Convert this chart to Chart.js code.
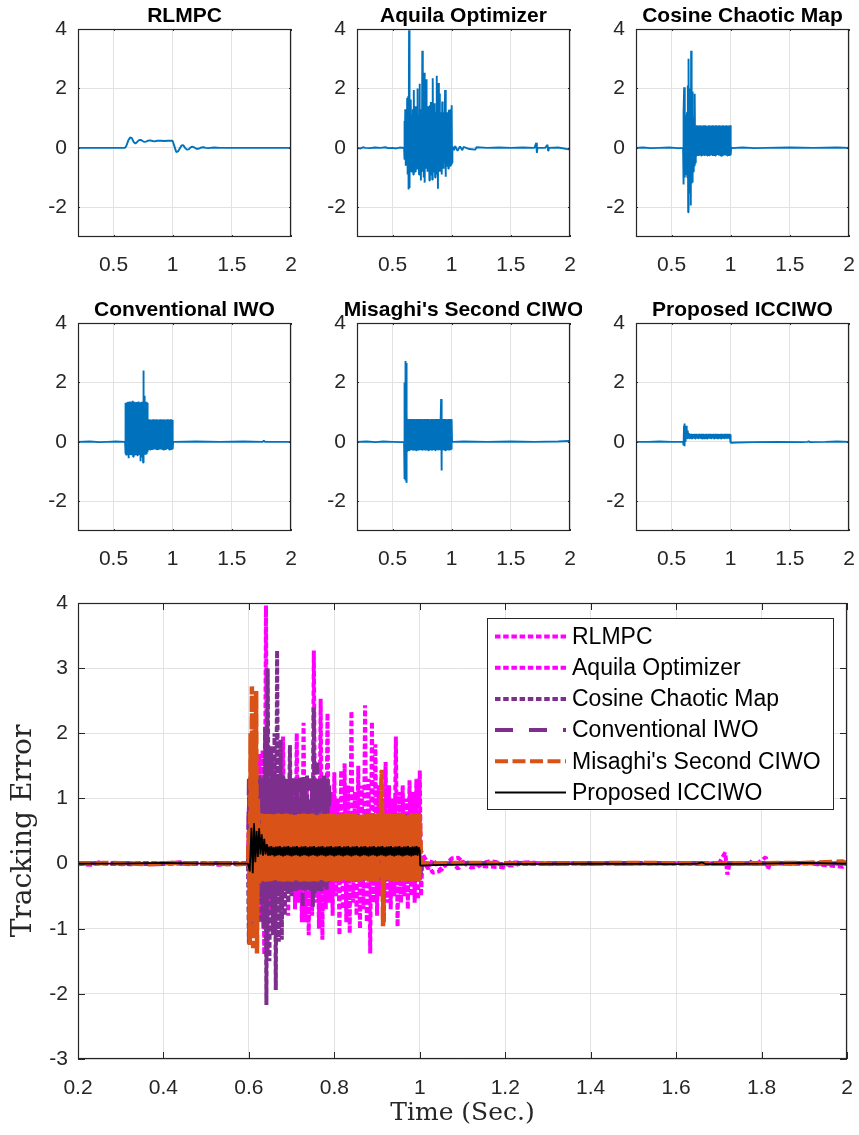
<!DOCTYPE html>
<html><head><meta charset="utf-8">
<script src="https://cdn.jsdelivr.net/npm/chart.js@4.4.0/dist/chart.umd.min.js"></script>
<style>
html,body{margin:0;padding:0;background:#fff;}
body{width:859px;height:1135px;position:relative;overflow:hidden;}
canvas{position:absolute;}
</style></head><body>
<canvas id="s0"></canvas><canvas id="s1"></canvas><canvas id="s2"></canvas>
<canvas id="s3"></canvas><canvas id="s4"></canvas><canvas id="s5"></canvas>
<canvas id="big"></canvas>
<script>
// ---------------- DATA ----------------
const methodNames = ['RLMPC','Aquila Optimizer','Cosine Chaotic Map','Conventional IWO',"Misaghi's Second CIWO",'Proposed ICCIWO'];
const smallXTicks = [0.5,1,1.5,2];
const smallXLabels = ['0.5','1','1.5','2'];
const smallYTicks = [-2,0,2,4];
const smallYLabels = ['-2','0','2','4'];
const bigXTicks = [0.2,0.4,0.6,0.8,1,1.2,1.4,1.6,1.8,2];
const bigXLabels = ['0.2','0.4','0.6','0.8','1','1.2','1.4','1.6','1.8','2'];
const bigYTicks = [-3,-2,-1,0,1,2,3,4];
const bigYLabels = ['-3','-2','-1','0','1','2','3','4'];
const xLabelText = 'Time (Sec.)';
const yLabelText = 'Tracking Error';

const rlmpc = [[.2,0],[.598,0],[.61,.08],[.625,.25],[.64,.35],[.655,.33],[.67,.2],[.685,.15],[.70,.2],[.715,.26],[.73,.27],[.745,.23],[.76,.2],[.775,.21],[.79,.24],[.81,.25],[.83,.23],[.85,.22],[.87,.24],[.9,.24],[.93,.23],[.96,.24],[.99,.24],[1.0,.23],[1.015,.05],[1.03,-.14],[1.045,-.12],[1.06,-.02],[1.075,.08],[1.09,.09],[1.105,0],[1.12,-.06],[1.135,-.05],[1.15,.01],[1.165,.04],[1.18,.02],[1.2,-.03],[1.22,-.03],[1.24,.01],[1.26,.02],[1.28,0],[1.3,-.01],[1.35,.01],[1.4,0],[2.0,0]];

const aquila = [[.2,0],[.23,-.02],[.25,.02],[.27,0],[.31,-.01],[.35,.01],[.4,0],[.44,.02],[.46,-.01],[.5,0],[.53,-.02],[.56,.01],[.598,0],
[.600,.9],[.604,-.4],[.608,1.3],[.612,-.6],[.616,1.1],[.620,-.5],[.624,1.68],[.628,-.9],[.632,1.74],[.636,-1.4],[.640,3.96],[.644,-1.35],[.648,1.2],[.652,-.7],[.656,1.63],[.660,-.8],[.664,1.1],[.668,-.5],[.672,1.3],[.676,-.9],[.680,1.95],[.684,-.6],[.688,1.0],[.692,-.8],[.696,1.4],[.700,-.5],[.704,1.2],[.708,-.7],[.712,2.0],[.716,-.6],[.720,1.1],[.724,-.9],[.728,2.16],[.732,-.9],[.736,1.3],[.740,-1.1],[.744,1.0],[.748,-.8],[.752,3.27],[.756,-.6],[.760,1.2],[.764,-1.0],[.768,2.53],[.772,-1.17],[.776,1.3],[.780,-.7],[.784,2.31],[.788,-.6],[.792,1.1],[.796,-.8],[.800,1.4],[.804,-.5],[.808,1.0],[.812,-1.1],[.816,1.43],[.820,-.7],[.824,1.54],[.828,-.9],[.832,1.2],[.836,-1.07],[.840,2.34],[.844,-.6],[.848,1.1],[.852,-.8],[.856,1.5],[.860,-1.0],[.864,1.2],[.868,-.7],[.872,2.43],[.876,-.9],[.880,1.3],[.884,-1.38],[.888,2.18],[.892,-.6],[.896,1.83],[.900,-.8],[.904,1.2],[.908,-.5],[.912,1.0],[.916,-.9],[.920,1.56],[.924,-.6],[.928,1.2],[.932,-.7],[.936,1.0],[.940,-.5],[.944,1.95],[.948,-.97],[.952,1.1],[.956,-.6],[.960,1.2],[.964,-.5],[.968,1.0],[.972,-.7],[.976,1.28],[.980,-.5],[.984,1.1],[.988,-.6],[.992,1.3],[.996,-.55],[1.0,1.43],[1.003,-.5],[1.006,.05],
[1.02,-.08],[1.03,.06],[1.05,-.1],[1.07,.05],[1.09,-.08],[1.1,.03],[1.15,-.04],[1.2,-.06],[1.21,.02],[1.3,0],[1.4,.01],[1.5,0],[1.6,.01],[1.7,0],[1.715,.17],[1.72,-.17],[1.725,0],[1.79,0],[1.81,.1],[1.815,-.09],[1.82,0],[1.9,.01],[1.99,-.05],[2.0,0]];

const cosine = [[.2,0],[.26,.01],[.32,-.01],[.4,0],[.48,.01],[.55,-.01],[.598,0],
[.600,-1.23],[.604,1.2],[.607,2.04],[.610,-1.0],[.614,1.0],[.618,-.8],[.622,1.1],[.626,-.9],[.630,1.2],[.634,-1.0],[.638,2.1],[.641,-2.17],[.644,3.0],[.648,-1.5],[.652,1.8],[.656,-1.1],[.660,2.0],[.663,-1.94],[.666,3.27],[.670,-1.2],[.674,1.9],[.677,-1.17],[.680,1.3],[.684,-.8],[.688,1.0],[.692,-.6],[.696,1.82],[.700,-.5],
[.705,.74],[.71,-.26],[.715,.76],[.72,-.24],[.725,.75],[.73,-.27],[.735,.73],[.74,-.25],[.745,.76],[.75,-.26],[.755,.74],[.76,-.24],[.765,.75],[.77,-.25],[.775,.76],[.78,-.27],[.785,.74],[.79,-.25],[.795,.75],[.8,-.26],[.805,.73],[.81,-.24],[.815,.76],[.82,-.25],[.825,.75],[.83,-.26],[.835,.74],[.84,-.25],[.845,.76],[.85,-.27],[.855,.75],[.86,-.24],[.865,.74],[.87,-.26],[.875,.76],[.88,-.25],[.885,.75],[.89,-.24],[.895,.73],[.9,-.26],[.905,.76],[.91,-.25],[.915,.74],[.92,-.27],[.925,.75],[.93,-.25],[.935,.76],[.94,-.24],[.945,.74],[.95,-.26],[.955,.75],[.96,-.25],[.965,.76],[.97,-.26],[.975,.74],[.98,-.24],[.985,.75],[.99,-.27],[.995,.76],[1.0,-.25],[1.004,.02],[1.01,-.01],
[1.1,.01],[1.2,-.01],[1.3,0],[1.5,.01],[1.7,0],[1.9,.01],[2.0,0]];

const iwo = [[.2,0],[.3,.01],[.38,-.01],[.45,0],[.52,.01],[.598,0],
[.600,1.3],[.602,-.4],[.604,1.32],[.606,-.42],[.608,1.3],[.610,-.45],[.612,1.28],[.614,-.4],[.616,1.33],[.618,-.43],[.620,1.3],[.622,-.4],[.624,1.35],[.626,-.45],[.628,1.3],[.630,-.55],[.632,1.31],[.634,-.42],[.636,1.3],[.638,-.4],[.640,1.36],[.642,-.44],[.644,1.3],[.646,-.4],[.648,1.32],[.650,-.45],[.652,1.3],[.654,-.42],[.656,1.33],[.658,-.4],[.660,1.3],[.662,-.43],[.664,1.38],[.666,-.5],[.668,1.3],[.670,-.42],[.672,1.31],[.674,-.4],[.676,1.3],[.678,-.45],[.680,1.35],[.682,-.4],[.684,1.3],[.686,-.42],[.688,1.32],[.690,-.45],[.692,1.3],[.694,-.4],[.696,1.34],[.698,-.43],[.700,1.3],[.702,-.4],[.704,1.31],[.706,-.48],[.708,1.3],[.710,-.42],[.712,1.36],[.714,-.4],[.716,1.3],[.718,-.44],[.720,1.32],[.722,-.4],[.724,1.3],[.726,-.65],[.728,1.33],[.730,-.42],[.732,1.3],[.734,-.4],[.736,1.35],[.738,-.45],[.740,1.3],[.742,-.5],[.744,1.31],[.746,-.42],[.748,1.3],[.750,-.7],[.752,2.4],[.754,-.45],[.756,1.3],[.758,-.4],[.760,1.55],[.762,-.42],[.764,1.3],[.766,-.4],[.768,1.32],[.770,-.43],[.772,1.3],[.774,-.4],[.776,1.35],[.778,-.42],[.780,1.3],[.782,-.4],[.784,1.31],[.786,-.35],[.788,1.3],[.790,-.3],
[.795,.75],[.8,-.25],[.805,.76],[.81,-.26],[.815,.74],[.82,-.24],[.825,.75],[.83,-.27],[.835,.76],[.84,-.25],[.845,.74],[.85,-.26],[.855,.75],[.86,-.24],[.865,.76],[.87,-.25],[.875,.74],[.88,-.27],[.885,.75],[.89,-.25],[.895,.76],[.9,-.26],[.905,.74],[.91,-.24],[.915,.75],[.92,-.26],[.925,.76],[.93,-.25],[.935,.74],[.94,-.27],[.945,.75],[.95,-.25],[.955,.76],[.96,-.24],[.965,.74],[.97,-.26],[.975,.75],[.98,-.25],[.985,.76],[.99,-.27],[.995,.74],[1.0,-.25],[1.004,.01],[1.01,0],
[1.2,.01],[1.4,0],[1.6,.01],[1.76,0],[1.77,.04],[1.78,0],[2.0,0]];

const misaghi = [[.2,0],[.28,.01],[.36,-.01],[.42,.01],[.5,0],[.57,-.01],[.598,0],
[.600,.5],[.602,-1.25],[.604,2.0],[.606,-.9],[.607,2.72],[.610,-1.3],[.613,2.2],[.615,-1.1],[.617,2.65],[.619,-1.38],[.621,1.0],[.624,-.3],
[.628,.77],[.6305,-.27],[.633,.75],[.6355,-.26],[.638,.76],[.6405,-.28],[.643,.74],[.6455,-.25],[.648,.77],[.6505,-.27],[.653,.75],[.6555,-.26],[.658,.76],[.6605,-.28],[.663,.74],[.6655,-.25],[.668,.77],[.6705,-.27],[.673,.75],[.6755,-.26],[.678,.76],[.6805,-.28],[.683,.74],[.6855,-.25],[.688,.77],[.6905,-.27],[.693,.75],[.6955,-.26],[.698,.76],[.7005,-.28],[.703,.74],[.7055,-.25],[.708,.77],[.7105,-.27],[.713,.75],[.7155,-.26],[.718,.76],[.7205,-.28],[.723,.74],[.7255,-.25],[.728,.77],[.7305,-.27],[.733,.75],[.7355,-.26],[.738,.76],[.7405,-.28],[.743,.74],[.7455,-.25],[.748,.77],[.7505,-.27],[.753,.75],[.7555,-.26],[.758,.76],[.7605,-.28],[.763,.74],[.7655,-.25],[.768,.77],[.7705,-.27],[.773,.75],[.7755,-.26],[.778,.76],[.7805,-.28],[.783,.74],[.7855,-.25],[.788,.77],[.7905,-.27],[.793,.75],[.7955,-.26],[.798,.76],[.8005,-.28],[.803,.74],[.8055,-.25],[.808,.77],[.8105,-.27],[.813,.75],[.8155,-.26],[.818,.76],[.8205,-.28],[.823,.74],[.8255,-.25],[.828,.77],[.8305,-.27],[.833,.75],[.8355,-.26],[.838,.76],[.8405,-.28],[.843,.74],[.8455,-.25],[.848,.77],[.8505,-.27],[.853,.75],[.8555,-.26],[.858,.76],[.8605,-.28],[.863,.74],[.8655,-.25],[.868,.77],[.8705,-.27],[.873,.75],[.8755,-.26],[.878,.76],[.8805,-.28],[.883,.74],[.8855,-.25],[.888,.77],[.8905,-.27],[.893,.75],[.8955,-.26],[.898,.76],[.9005,-.28],[.903,.74],[.9055,-.25],
[.908,.7],[.911,1.44],[.914,-.96],[.9165,.75],[.919,-.26],[.9215,.76],[.924,-.27],[.9265,.74],[.929,-.25],[.9315,.77],[.934,-.27],[.9365,.75],[.939,-.26],[.9415,.76],[.944,-.28],[.9465,.74],[.949,-.25],[.9515,.77],[.954,-.27],[.9565,.75],[.959,-.26],[.9615,.76],[.964,-.28],[.9665,.74],[.969,-.25],[.9715,.77],[.974,-.27],[.9765,.75],[.979,-.26],[.9815,.76],[.984,-.28],[.9865,.74],[.989,-.25],[.9915,.77],[.994,-.27],[.9965,.75],[.999,-.26],[1.0,.76],[1.003,.02],[1.01,0],
[1.1,.01],[1.3,0],[1.5,.01],[1.7,0],[1.9,.01],[1.99,.03],[2.0,0]];

const iccwo = [[.2,0],[.3,0],[.4,.01],[.5,0],[.598,0],
[.602,-.12],[.606,.55],[.609,-.15],[.612,.62],[.615,.02],[.618,.5],[.621,.1],[.624,.54],[.627,.14],[.630,.45],[.633,.12],[.636,.38],[.639,.14],[.642,.3],[.645,.12],
[.6475,.26],[.65,.12],[.6525,.27],[.655,.13],[.6575,.25],[.66,.11],[.6625,.26],[.665,.12],[.6675,.26],[.67,.13],[.6725,.27],[.675,.12],[.6775,.25],[.68,.11],[.6825,.26],[.685,.12],[.6875,.26],[.69,.13],[.6925,.27],[.695,.12],[.6975,.25],[.70,.11],[.7025,.26],[.705,.12],[.7075,.26],[.71,.13],[.7125,.27],[.715,.12],[.7175,.25],[.72,.11],[.7225,.26],[.725,.12],[.7275,.26],[.73,.13],[.7325,.27],[.735,.12],[.7375,.25],[.74,.11],[.7425,.26],[.745,.12],[.7475,.26],[.75,.13],[.7525,.27],[.755,.12],[.7575,.25],[.76,.11],[.7625,.26],[.765,.12],[.7675,.26],[.77,.13],[.7725,.27],[.775,.12],[.7775,.25],[.78,.11],[.7825,.26],[.785,.12],[.7875,.26],[.79,.13],[.7925,.27],[.795,.12],[.7975,.25],[.80,.11],[.8025,.26],[.805,.12],[.8075,.26],[.81,.13],[.8125,.27],[.815,.12],[.8175,.25],[.82,.11],[.8225,.26],[.825,.12],[.8275,.26],[.83,.13],[.8325,.27],[.835,.12],[.8375,.25],[.84,.11],[.8425,.26],[.845,.12],[.8475,.26],[.85,.13],[.8525,.27],[.855,.12],[.8575,.25],[.86,.11],[.8625,.26],[.865,.12],[.8675,.26],[.87,.13],[.8725,.27],[.875,.12],[.8775,.25],[.88,.11],[.8825,.26],[.885,.12],[.8875,.26],[.89,.13],[.8925,.27],[.895,.12],[.8975,.25],[.90,.11],[.9025,.26],[.905,.12],[.9075,.26],[.91,.13],[.9125,.27],[.915,.12],[.9175,.25],[.92,.11],[.9225,.26],[.925,.12],[.9275,.26],[.93,.13],[.9325,.27],[.935,.12],[.9375,.25],[.94,.11],[.9425,.26],[.945,.12],[.9475,.26],[.95,.13],[.9525,.27],[.955,.12],[.9575,.25],[.96,.11],[.9625,.26],[.965,.12],[.9675,.26],[.97,.13],[.9725,.27],[.975,.12],[.9775,.25],[.98,.11],[.9825,.26],[.985,.12],[.9875,.26],[.99,.13],[.9925,.27],[.995,.12],[.9975,.25],[1.0,.2],[1.001,-.03],[1.05,-.02],
[1.2,-.01],[1.4,0],[1.6,-.01],[1.65,0],[1.66,.02],[1.67,-.01],[1.8,0],[1.9,.01],[2.0,0]];

const allSeries = [rlmpc, aquila, cosine, iwo, misaghi, iccwo];

// ---------------- RENDERING ----------------
const INK = '#262626';
Chart.defaults.font.family = "'Liberation Sans', Arial, sans-serif";
Chart.defaults.color = INK;
const toXY = arr => arr.map(p => ({x: p[0], y: p[1]}));

const boxPlugin = {
  id: 'boxPlugin',
  afterDatasetsDraw(chart, args, opts) {
    const {ctx, chartArea: a, scales} = chart;
    const L = opts.tick || 0;
    ctx.save();
    ctx.strokeStyle = INK; ctx.lineWidth = 1;
    ctx.beginPath();
    scales.x.ticks.forEach(t => {
      const px = Math.round(scales.x.getPixelForValue(t.value)) + 0.5;
      ctx.moveTo(px, a.bottom); ctx.lineTo(px, a.bottom - L);
      ctx.moveTo(px, a.top); ctx.lineTo(px, a.top + L);
    });
    scales.y.ticks.forEach(t => {
      const py = Math.round(scales.y.getPixelForValue(t.value)) + 0.5;
      ctx.moveTo(a.left, py); ctx.lineTo(a.left + L, py);
      ctx.moveTo(a.right, py); ctx.lineTo(a.right - L, py);
    });
    ctx.stroke();
    ctx.lineWidth = 1.2;
    ctx.strokeRect(a.left + 0.5, a.top + 0.5, a.right - a.left - 1, a.bottom - a.top - 1);
    ctx.restore();
  }
};

const panelTitle = {
  id: 'panelTitle',
  afterDraw(chart, args, opts) {
    if (!opts.text) return;
    const {ctx, chartArea: a} = chart;
    ctx.save();
    ctx.font = "bold 21px 'Liberation Sans', Arial, sans-serif";
    ctx.fillStyle = '#000';
    ctx.textAlign = 'center';
    ctx.textBaseline = 'alphabetic';
    ctx.fillText(opts.text, (a.left + a.right) / 2, a.top - 7);
    ctx.restore();
  }
};

const innerLegend = {
  id: 'innerLegend',
  afterDraw(chart, args, opts) {
    if (!opts.show) return;
    const {ctx} = chart;
    ctx.save();
    ctx.fillStyle = '#fff';
    ctx.fillRect(opts.x, opts.y, opts.w, opts.h);
    ctx.strokeStyle = INK; ctx.lineWidth = 1;
    ctx.strokeRect(opts.x + 0.5, opts.y + 0.5, opts.w, opts.h);
    ctx.font = "23px 'Liberation Sans', Arial, sans-serif";
    ctx.textBaseline = 'middle';
    ctx.textAlign = 'left';
    methodNames.forEach((name, i) => {
      const ds = chart.data.datasets.find(d => d.label === name);
      const yy = opts.y + opts.row0 + i * opts.rowH;
      ctx.beginPath();
      ctx.strokeStyle = ds.borderColor;
      ctx.lineWidth = Math.min(ds.borderWidth, 4);
      ctx.setLineDash(ds.borderDash || []);
      ctx.moveTo(opts.lx0, yy); ctx.lineTo(opts.lx1, yy);
      ctx.stroke();
      ctx.setLineDash([]);
      ctx.fillStyle = '#000';
      ctx.fillText(name, opts.tx, yy + 1);
    });
    ctx.restore();
  }
};

function placeCanvas(id, left, top, w, h) {
  const c = document.getElementById(id);
  c.width = w; c.height = h;
  c.style.left = left + 'px'; c.style.top = top + 'px';
  c.style.width = w + 'px'; c.style.height = h + 'px';
  return c;
}

function axisCfg(min, max, ticks, labels, fontSize, pad, fitKey, fitVal) {
  return {
    type: 'linear', min, max,
    afterBuildTicks: s => { s.ticks = ticks.map(v => ({value: v})); },
    afterFit: s => {
      s[fitKey] = fitVal;
      s.paddingLeft = 0; s.paddingRight = 0; s.paddingTop = 0; s.paddingBottom = 0;
    },
    ticks: { autoSkip: false, maxRotation: 0, minRotation: 0, padding: pad,
      font: {size: fontSize}, color: INK,
      callback: (v, i) => labels[i] },
    grid: { color: '#e2e2e2', lineWidth: 1, drawTicks: false },
    border: { display: false }
  };
}

// small multiples
const colLeft = [78, 357, 636];
const rowTop = [29, 323];
allSeries.forEach((ser, k) => {
  const aL = colLeft[k % 3], aT = rowTop[Math.floor(k / 3)];
  const c = placeCanvas('s' + k, aL - 78, aT - 29, 303, 285);
  new Chart(c, {
    type: 'line',
    data: { datasets: [{ label: methodNames[k], data: toXY(ser), borderColor: '#0072BD',
      borderWidth: 1.9, borderJoinStyle: 'bevel', pointRadius: 0, tension: 0, fill: false }] },
    options: {
      responsive: false, animation: false, devicePixelRatio: 1, parsing: false,
      layout: { padding: { top: 29, right: 12, left: 0, bottom: 0 } },
      scales: {
        x: axisCfg(0.2, 2, smallXTicks, smallXLabels, 21, 16, 'height', 48),
        y: axisCfg(-3, 4, smallYTicks, smallYLabels, 21, 11, 'width', 78)
      },
      plugins: { legend: {display: false}, tooltip: {enabled: false},
        boxPlugin: { tick: 2 }, panelTitle: { text: methodNames[k] } }
    },
    plugins: [boxPlugin, panelTitle]
  });
});

// big comparison chart
const bigStyles = [
  {color: '#FF00FF', dash: [5.5, 2.7], width: 4},
  {color: '#FF00FF', dash: [5.5, 2.7], width: 4},
  {color: '#7E2F8E', dash: [5.5, 2.7], width: 4},
  {color: '#7E2F8E', dash: [18, 16], width: 4},
  {color: '#D95319', dash: [13, 4.5], width: 4.5},
  {color: '#000000', dash: [], width: 1.8}
];
const bigDatasets = allSeries.map((ser, k) => ({
  label: methodNames[k], data: toXY(ser),
  borderColor: bigStyles[k].color, borderDash: bigStyles[k].dash, borderWidth: bigStyles[k].width,
  borderJoinStyle: 'bevel', pointRadius: 0, tension: 0, fill: false,
  order: allSeries.length - 1 - k
}));
const bc = placeCanvas('big', 0, 580, 859, 555);
const bx = axisCfg(0.2, 2, bigXTicks, bigXLabels, 21, 17, 'height', 76);
bx.title = { display: true, text: xLabelText, color: INK, font: {family: "'DejaVu Serif', serif", size: 25}, padding: {top: 6, bottom: 7} };
const by = axisCfg(-3, 4, bigYTicks, bigYLabels, 21, 10, 'width', 78);
by.title = { display: true, text: yLabelText, color: INK, font: {family: "'DejaVu Serif', serif", size: 28}, padding: {top: 7, bottom: 7} };
new Chart(bc, {
  type: 'line',
  data: { datasets: bigDatasets },
  options: {
    responsive: false, animation: false, devicePixelRatio: 1, parsing: false,
    layout: { padding: { top: 23, right: 12, left: 0, bottom: 0 } },
    scales: { x: bx, y: by },
    plugins: { legend: {display: false}, tooltip: {enabled: false},
      boxPlugin: { tick: 7 },
      innerLegend: { show: true, x: 487, y: 38, w: 346, h: 191, row0: 18.5, rowH: 31.2, lx0: 495, lx1: 566, tx: 572 } }
  },
  plugins: [boxPlugin, innerLegend]
});
</script>
</body></html>
